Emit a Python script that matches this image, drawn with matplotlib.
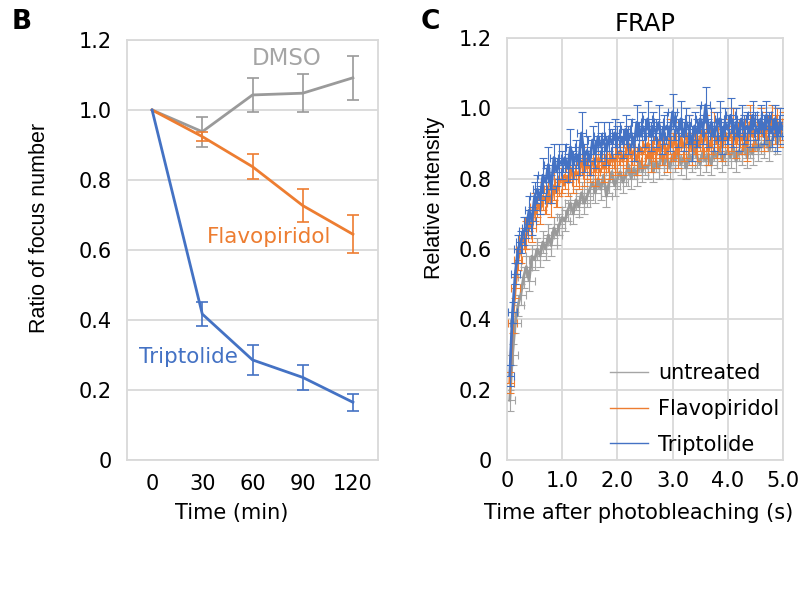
import numpy as np
import matplotlib
matplotlib.use("Agg")
import matplotlib.pyplot as plt
from matplotlib.lines import Line2D

plt.rcParams['font.family'] = ['DejaVu Sans']

# ---------------- Panel B data ----------------
b_time = [0, 30, 60, 90, 120]
b_dmso = [1.0, 0.938, 1.043, 1.048, 1.092]
b_dmso_err = [0.0, 0.043, 0.048, 0.055, 0.063]
b_flavo = [1.0, 0.924, 0.838, 0.727, 0.645]
b_flavo_err = [0.0, 0.012, 0.035, 0.048, 0.054]
b_tript = [1.0, 0.417, 0.286, 0.236, 0.165]
b_tript_err = [0.0, 0.034, 0.044, 0.036, 0.024]
b_yticks = [0, 0.2, 0.4, 0.6, 0.8, 1.0, 1.2]
b_yticklabels = ['0', '0.2', '0.4', '0.6', '0.8', '1.0', '1.2']

# ---------------- Panel C data (FRAP) ----------------
c_time = np.round(np.arange(1, 101) * 0.05, 2)
c_tript = [0.24, 0.42, 0.53, 0.60, 0.62, 0.65, 0.66, 0.71, 0.68, 0.75,
           0.77, 0.74, 0.81, 0.79, 0.84, 0.77, 0.86, 0.82, 0.85, 0.84,
           0.86, 0.83, 0.89, 0.84, 0.87, 0.85, 0.93, 0.86, 0.88, 0.85,
           0.91, 0.87, 0.92, 0.89, 0.91, 0.88, 0.92, 0.90, 0.93, 0.91,
           0.92, 0.90, 0.94, 0.91, 0.93, 0.89, 0.96, 0.92, 0.95, 0.93,
           0.97, 0.92, 0.95, 0.93, 0.96, 0.91, 0.94, 0.95, 0.92, 0.99,
           0.95, 0.93, 0.97, 0.92, 0.96, 0.94, 0.90, 0.95, 0.93, 0.97,
           0.94, 1.01, 0.93, 0.96, 0.92, 0.95, 0.97, 0.91, 0.96, 0.94,
           0.98, 0.93, 0.96, 0.92, 0.97, 0.94, 0.95, 0.93, 0.98, 0.95,
           0.93, 0.97, 0.94, 0.98, 0.95, 0.93, 0.97, 0.92, 0.96, 0.94]
c_tript_err = [0.03, 0.03, 0.03, 0.04, 0.03, 0.04, 0.03, 0.04, 0.04, 0.04,
               0.04, 0.04, 0.05, 0.04, 0.05, 0.04, 0.04, 0.04, 0.05, 0.04,
               0.04, 0.04, 0.05, 0.04, 0.04, 0.04, 0.06, 0.04, 0.04, 0.04,
               0.04, 0.04, 0.04, 0.04, 0.05, 0.04, 0.04, 0.04, 0.04, 0.04,
               0.04, 0.04, 0.04, 0.04, 0.04, 0.04, 0.05, 0.04, 0.04, 0.04,
               0.05, 0.04, 0.04, 0.04, 0.05, 0.04, 0.04, 0.04, 0.04, 0.05,
               0.04, 0.04, 0.05, 0.04, 0.04, 0.04, 0.05, 0.04, 0.04, 0.04,
               0.04, 0.05, 0.04, 0.04, 0.04, 0.04, 0.05, 0.04, 0.04, 0.04,
               0.05, 0.04, 0.04, 0.04, 0.04, 0.04, 0.04, 0.04, 0.04, 0.04,
               0.04, 0.04, 0.04, 0.04, 0.04, 0.04, 0.04, 0.04, 0.04, 0.04]
c_flavo = [0.22, 0.39, 0.49, 0.57, 0.60, 0.63, 0.64, 0.68, 0.66, 0.72,
           0.73, 0.71, 0.75, 0.74, 0.77, 0.73, 0.78, 0.76, 0.79, 0.80,
           0.81, 0.79, 0.83, 0.80, 0.82, 0.81, 0.85, 0.82, 0.84, 0.83,
           0.85, 0.82, 0.84, 0.86, 0.83, 0.86, 0.84, 0.87, 0.85, 0.86,
           0.88, 0.85, 0.87, 0.90, 0.86, 0.88, 0.85, 0.89, 0.87, 0.88,
           0.90, 0.86, 0.89, 0.87, 0.91, 0.88, 0.90, 0.86, 0.92, 0.89,
           0.91, 0.87, 0.92, 0.89, 0.90, 0.93, 0.88, 0.91, 0.89, 0.92,
           0.90, 0.93, 0.88, 0.91, 0.94, 0.90, 0.92, 0.89, 0.93, 0.91,
           0.92, 0.95, 0.90, 0.93, 0.91, 0.94, 0.89, 0.96, 0.92, 0.94,
           0.93, 0.96, 0.92, 0.95, 0.93, 0.97, 0.94, 0.96, 0.93, 0.95]
c_flavo_err = [0.03, 0.03, 0.03, 0.03, 0.04, 0.03, 0.04, 0.03, 0.04, 0.04,
               0.04, 0.04, 0.04, 0.04, 0.04, 0.04, 0.04, 0.04, 0.04, 0.04,
               0.04, 0.04, 0.04, 0.04, 0.04, 0.04, 0.04, 0.04, 0.04, 0.04,
               0.04, 0.04, 0.04, 0.04, 0.04, 0.04, 0.04, 0.04, 0.04, 0.04,
               0.04, 0.04, 0.04, 0.05, 0.04, 0.04, 0.04, 0.04, 0.04, 0.04,
               0.04, 0.04, 0.04, 0.04, 0.05, 0.04, 0.04, 0.04, 0.05, 0.04,
               0.05, 0.04, 0.04, 0.04, 0.04, 0.05, 0.04, 0.04, 0.04, 0.04,
               0.04, 0.05, 0.04, 0.04, 0.05, 0.04, 0.04, 0.04, 0.04, 0.04,
               0.04, 0.05, 0.04, 0.04, 0.04, 0.04, 0.04, 0.05, 0.04, 0.04,
               0.04, 0.04, 0.04, 0.04, 0.04, 0.04, 0.04, 0.04, 0.04, 0.04]
c_untr = [0.17, 0.30, 0.39, 0.44, 0.47, 0.52, 0.55, 0.51, 0.58, 0.57,
          0.60, 0.58, 0.62, 0.60, 0.64, 0.61, 0.66, 0.64, 0.67, 0.69,
          0.68, 0.71, 0.73, 0.70, 0.74, 0.72, 0.76, 0.73, 0.75, 0.77,
          0.79, 0.76, 0.80, 0.77, 0.81, 0.75, 0.79, 0.82, 0.78, 0.80,
          0.82, 0.79, 0.81, 0.84, 0.80, 0.83, 0.81, 0.85, 0.82, 0.84,
          0.83, 0.86, 0.82, 0.85, 0.83, 0.87, 0.84, 0.86, 0.83, 0.87,
          0.85, 0.88, 0.84, 0.86, 0.83, 0.87, 0.85, 0.89, 0.86, 0.84,
          0.88, 0.85, 0.87, 0.84, 0.88, 0.86, 0.89, 0.85, 0.87, 0.88,
          0.86, 0.89, 0.85, 0.88, 0.87, 0.90, 0.86, 0.89, 0.87, 0.91,
          0.88, 0.90, 0.89, 0.92, 0.88, 0.91, 0.93, 0.90, 0.92, 0.93]
c_untr_err = [0.03, 0.03, 0.03, 0.03, 0.03, 0.03, 0.03, 0.03, 0.03, 0.03,
              0.03, 0.03, 0.03, 0.03, 0.03, 0.03, 0.03, 0.03, 0.03, 0.03,
              0.03, 0.03, 0.03, 0.03, 0.03, 0.03, 0.03, 0.03, 0.03, 0.03,
              0.03, 0.03, 0.03, 0.03, 0.03, 0.03, 0.03, 0.03, 0.03, 0.03,
              0.03, 0.03, 0.03, 0.03, 0.03, 0.03, 0.03, 0.03, 0.03, 0.03,
              0.03, 0.03, 0.03, 0.03, 0.03, 0.03, 0.03, 0.03, 0.03, 0.03,
              0.03, 0.03, 0.03, 0.03, 0.03, 0.03, 0.03, 0.03, 0.03, 0.03,
              0.03, 0.03, 0.03, 0.03, 0.03, 0.03, 0.03, 0.03, 0.03, 0.03,
              0.03, 0.03, 0.03, 0.03, 0.03, 0.03, 0.03, 0.03, 0.03, 0.03,
              0.03, 0.03, 0.03, 0.03, 0.03, 0.03, 0.03, 0.03, 0.03, 0.03]
c_untr_xerr = 0.1
c_flavo_xerr = 0.08
c_tript_xerr = 0.08
c_xticks = [0, 1, 2, 3, 4, 5]
c_xticklabels = ['0', '1.0', '2.0', '3.0', '4.0', '5.0']
c_yticks = [0, 0.2, 0.4, 0.6, 0.8, 1.0, 1.2]
c_yticklabels = ['0', '0.2', '0.4', '0.6', '0.8', '1.0', '1.2']
c_labels = ['untreated', 'Flavopiridol', 'Triptolide']

GRAY = '#A5A5A5'
GRAY_LINE = '#9A9A9A'
ORANGE = '#ED7D31'
BLUE = '#4472C4'
GRID = '#D9D9D9'
FS = 15
VFONT, VFS = ['Liberation Sans', 'DejaVu Sans'], 15.5

W, H = 801, 607
fig = plt.figure(figsize=(W / 100, H / 100), dpi=100)

def frac_box(l, t, r, b):
    return [l / W, 1 - b / H, (r - l) / W, (b - t) / H]

# ---------------- Panel B ----------------
axb = fig.add_axes(frac_box(127, 40, 378, 460))
for vals, errs, col in [(b_dmso, b_dmso_err, GRAY_LINE),
                        (b_flavo, b_flavo_err, ORANGE),
                        (b_tript, b_tript_err, BLUE)]:
    axb.plot(b_time, vals, color=col, lw=2.0, zorder=3)
    axb.errorbar(b_time[1:], vals[1:], yerr=errs[1:], fmt='none',
                 ecolor=col, elinewidth=1.2, capsize=4.5, capthick=1.2, zorder=3)
axb.set_xlim(-15, 135)
axb.set_ylim(0, 1.2)
axb.set_xticks(b_time)
axb.set_xticklabels([str(t) for t in b_time])
axb.set_yticks(b_yticks)
axb.set_yticklabels(b_yticklabels)
axb.yaxis.grid(True, color=GRID, lw=1.3)
axb.set_axisbelow(True)
for s in axb.spines.values():
    s.set_color(GRID)
    s.set_linewidth(1.3)
axb.tick_params(length=0, labelsize=FS)
axb.tick_params(axis='y', pad=11)
axb.tick_params(axis='x', pad=10)
axb.set_ylabel('Ratio of focus number', fontsize=VFS, family=VFONT)
axb.yaxis.set_label_coords(-0.307, 0.552)
axb.set_xlabel('Time (min)', fontsize=FS)
axb.xaxis.set_label_coords(0.417, -0.102)
axb.text(80.6, 1.146, 'DMSO', color=GRAY, fontsize=16.5, ha='center', va='center')
axb.text(69.9, 0.636, 'Flavopiridol', color=ORANGE, fontsize=15.5, ha='center', va='center')
axb.text(21.6, 0.295, 'Triptolide', color=BLUE, fontsize=15.5, ha='center', va='center')
fig.text(22 / W, 1 - 22 / H, 'B', fontsize=19, fontweight='bold', ha='center', va='center')

# ---------------- Panel C ----------------
axc = fig.add_axes(frac_box(507, 38, 783, 460))
series = [(c_untr, c_untr_err, c_untr_xerr, GRAY_LINE, GRAY),
          (c_flavo, c_flavo_err, c_flavo_xerr, ORANGE, ORANGE),
          (c_tript, c_tript_err, c_tript_xerr, BLUE, BLUE)]
for i, (vals, errs, xe, lc, ec) in enumerate(series):
    axc.errorbar(c_time, vals, yerr=errs, xerr=xe, fmt='none', ecolor=ec,
                 elinewidth=0.8, capsize=3.2, capthick=0.8, zorder=2 + i * 2)
    axc.plot(c_time, vals, color=lc, lw=2.0, zorder=3 + i * 2)
axc.set_xlim(0, 5.0)
axc.set_ylim(0, 1.2)
axc.set_xticks(c_xticks)
axc.set_xticklabels(c_xticklabels)
axc.set_yticks(c_yticks)
axc.set_yticklabels(c_yticklabels)
axc.grid(True, color=GRID, lw=1.3)
axc.set_axisbelow(True)
for s in axc.spines.values():
    s.set_color(GRID)
    s.set_linewidth(1.3)
axc.tick_params(length=0, labelsize=FS)
axc.tick_params(axis='y', pad=11)
axc.tick_params(axis='x', pad=8)
axc.set_ylabel('Relative intensity', fontsize=VFS, family=VFONT)
axc.yaxis.set_label_coords(-0.225, 0.62)
axc.set_xlabel('Time after photobleaching (s)', fontsize=FS)
axc.xaxis.set_label_coords(0.478, -0.102)
axc.set_title('FRAP', fontsize=17.5, pad=5)
fig.text(430 / W, 1 - 22 / H, 'C', fontsize=19, fontweight='bold', ha='center', va='center')

handles = [Line2D([0], [0], color=c, lw=1.0) for c in [GRAY, ORANGE, BLUE]]
leg = axc.legend(handles, c_labels, loc='lower right', frameon=False, fontsize=15,
                 handlelength=1.8, handletextpad=0.5, labelspacing=0.75,
                 bbox_to_anchor=(1.032, -0.017), borderaxespad=0.2)
leg.set_zorder(20)

fig.savefig('out.png', dpi=100)
